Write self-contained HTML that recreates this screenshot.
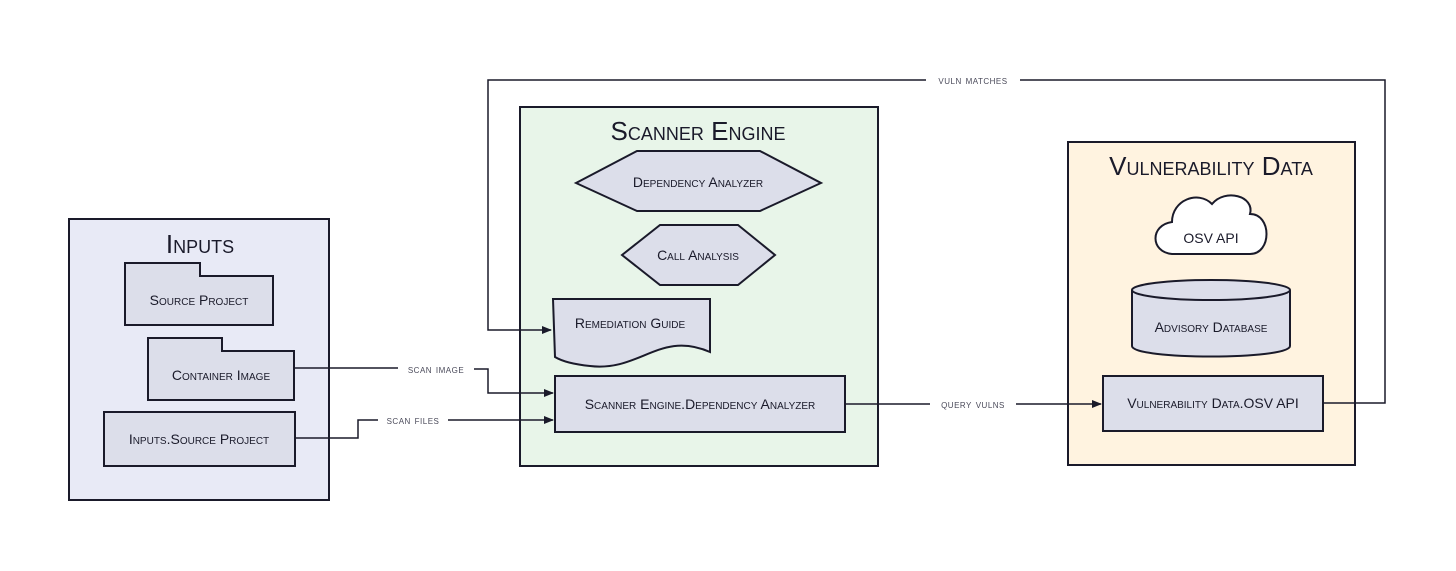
<!DOCTYPE html>
<html><head><meta charset="utf-8"><style>
html,body{margin:0;padding:0;background:#fff;}
svg{display:block;}
text{font-family:"Liberation Sans",sans-serif;fill:#1a1a2a;}
.t{font-variant:small-caps;font-size:14px;}
.h{font-variant:small-caps;font-size:26px;}
.l{font-size:12px;fill:#4a4a5a;font-variant:small-caps;letter-spacing:0.5px;}
</style></head><body>
<svg width="1456" height="571" viewBox="0 0 1456 571">
<defs><marker id="a" markerWidth="10" markerHeight="8" refX="9" refY="4" orient="auto" markerUnits="userSpaceOnUse"><path d="M0,0 L10,4 L0,8 Z" fill="#1a1a2a"/></marker></defs>
<g stroke="#1a1a2a" stroke-width="2">
<rect x="69" y="219" width="260" height="281" fill="#e8eaf6"/>
<rect x="520" y="107" width="358" height="359" fill="#e8f5e9"/>
<rect x="1068" y="142" width="287" height="323" fill="#fff3e0"/>
<path d="M125,263 H200 V276 H273 V325 H125 Z" fill="#dcdeea"/>
<path d="M148,338 H222 V351 H294 V400 H148 Z" fill="#dcdeea"/>
<rect x="104" y="412" width="191" height="54" fill="#dcdeea"/>
<path d="M576,183 L637,151 H760 L821,183 L760,211 H637 Z" fill="#dcdeea"/>
<path d="M622,255 L660,225 H738 L775,255 L738,285 H660 Z" fill="#dcdeea"/>
<path d="M553,299 H710 V352 C660,330 640,372 590,366 C570,364 560,360 555,357 Z" fill="#dcdeea"/>
<rect x="555" y="376" width="290" height="56" fill="#dcdeea"/>
<path d="M1172,254 C1150,252 1150,225 1172,222 C1172,200 1198,190 1212,204 C1225,188 1255,196 1250,214 C1272,214 1272,254 1250,254 Z" fill="#ffffff"/>
<path d="M1132,290 V346 C1132,360 1290,360 1290,346 V290" fill="#dcdeea"/>
<ellipse cx="1211" cy="290" rx="79" ry="10" fill="#dcdeea"/>
<rect x="1103" y="376" width="220" height="55" fill="#dcdeea"/>
</g>
<g stroke="#1a1a2a" stroke-width="1.5" fill="none">
<path d="M294,368 H398 M474,369 H488 V393 H553" marker-end="url(#a)"/>
<path d="M295,438 H358 V420 H378 M448,420 H553" marker-end="url(#a)"/>
<path d="M845,404 H930 M1016,404 H1101" marker-end="url(#a)"/>
<path d="M1323,403 H1385 V80 H1020 M926,80 H488 V330 H551" marker-end="url(#a)"/>
</g>
<text class="h" x="200" y="253" text-anchor="middle">Inputs</text>
<text class="h" x="698" y="140" text-anchor="middle">Scanner Engine</text>
<text class="h" x="1211" y="175" text-anchor="middle">Vulnerability Data</text>
<text class="t" x="199" y="305" text-anchor="middle">Source Project</text>
<text class="t" x="221" y="380" text-anchor="middle">Container Image</text>
<text class="t" x="199" y="444" text-anchor="middle">Inputs.Source Project</text>
<text class="t" x="698" y="187" text-anchor="middle">Dependency Analyzer</text>
<text class="t" x="698" y="260" text-anchor="middle">Call Analysis</text>
<text class="t" x="630" y="328" text-anchor="middle">Remediation Guide</text>
<text class="t" x="700" y="409" text-anchor="middle">Scanner Engine.Dependency Analyzer</text>
<text class="t" x="1211" y="243" text-anchor="middle">OSV API</text>
<text class="t" x="1211" y="332" text-anchor="middle">Advisory Database</text>
<text class="t" x="1213" y="408" text-anchor="middle">Vulnerability Data.OSV API</text>
<text class="l" x="436" y="373" text-anchor="middle">scan image</text>
<text class="l" x="413" y="424" text-anchor="middle">scan files</text>
<text class="l" x="973" y="408" text-anchor="middle">query vulns</text>
<text class="l" x="973" y="84" text-anchor="middle">vuln matches</text>
</svg>
</body></html>
